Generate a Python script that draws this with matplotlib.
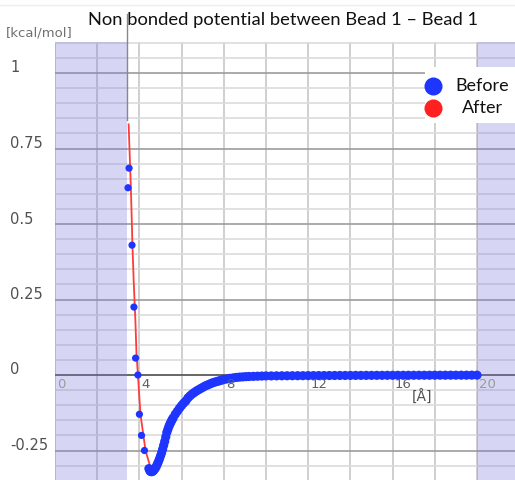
import matplotlib
matplotlib.use('Agg')
import matplotlib.pyplot as plt
from matplotlib.lines import Line2D
from matplotlib.patches import Rectangle
import matplotlib.transforms as mtransforms

# ---------------- data ----------------
title = "Non bonded potential between Bead 1 \u2013 Bead 1"
y_unit = "[kcal/mol]"
x_unit = "[\u00c5]"
series_names = ["Before", "After"]

x_ticks = [0, 4, 8, 12, 16, 20]
x_tick_labels = ["0", "4", "8", "12", "16", "20"]
y_ticks = [1, 0.75, 0.5, 0.25, 0, -0.25]
y_tick_labels = ["1", "0.75", "0.5", "0.25", "0", "-0.25"]

x_before = [3.46, 3.51, 3.65, 3.74, 3.82, 3.93, 4.00, 4.10, 4.24, 4.45,
            4.50, 4.55, 4.60, 4.65, 4.70, 4.75, 4.80, 4.85, 4.90, 4.95,
            5.00, 5.05, 5.10, 5.15, 5.20, 5.25, 5.30, 5.35, 5.40, 5.45,
            5.50, 5.55, 5.60, 5.70, 5.80, 5.90, 6.00, 6.10, 6.20, 6.30,
            6.40, 6.50, 6.60, 6.70, 6.80, 6.90, 7.00, 7.10, 7.20, 7.30,
            7.40, 7.50, 7.60, 7.70, 7.80, 7.90, 8.00, 8.15, 8.30, 8.45,
            8.60, 8.75, 8.90, 9.05, 9.20, 9.40, 9.60, 9.80, 10.00,
            10.25, 10.50, 10.75, 11.00, 11.25, 11.50, 11.75, 12.00, 12.25, 12.50,
            12.75, 13.00, 13.25, 13.50, 13.75, 14.00, 14.25, 14.50, 14.75, 15.00,
            15.25, 15.50, 15.75, 16.00, 16.25, 16.50, 16.75, 17.00, 17.25, 17.50,
            17.75, 18.00, 18.25, 18.50, 18.75, 19.00, 19.25, 19.50, 19.75, 20.00]
y_before = [0.62, 0.685, 0.43, 0.225, 0.056, 0.0, -0.13, -0.20, -0.25, -0.31,
            -0.318, -0.32, -0.32, -0.318, -0.314, -0.309, -0.303, -0.295, -0.287, -0.278,
            -0.268, -0.258, -0.246, -0.233, -0.22, -0.205, -0.19, -0.18, -0.17, -0.162,
            -0.155, -0.148, -0.142, -0.13, -0.12, -0.11, -0.101, -0.093, -0.086, -0.076,
            -0.069, -0.063, -0.058, -0.053, -0.049, -0.045, -0.041, -0.037, -0.034, -0.031,
            -0.028, -0.025, -0.023, -0.021, -0.019, -0.017, -0.015, -0.013, -0.011, -0.0095,
            -0.008, -0.007, -0.0062, -0.0055, -0.005, -0.0045, -0.004, -0.0035, -0.003,
            -0.003, -0.0028, -0.0026, -0.0025, -0.0024, -0.0023, -0.0022, -0.002, -0.002, -0.0019,
            -0.0018, -0.0017, -0.0016, -0.0015, -0.0015, -0.0014, -0.0013, -0.0013, -0.0012, -0.0012,
            -0.0011, -0.0011, -0.001, -0.001, -0.001, -0.0009, -0.0009, -0.0009, -0.0008, -0.0008,
            -0.0008, -0.0007, -0.0007, -0.0007, -0.0006, -0.0006, -0.0006, -0.0006, -0.0005, -0.0005]

x_after = [3.49, 3.60, 3.67, 3.73, 3.81, 3.86, 3.93, 4.05, 4.29, 4.52,
           4.80, 5.20, 5.60, 6.00, 7.00, 8.00, 10.00, 14.00, 20.00]
y_after = [0.83, 0.61, 0.43, 0.31, 0.18, 0.073, 0.0, -0.13, -0.25, -0.305,
           -0.303, -0.22, -0.142, -0.098, -0.039, -0.015, -0.003, -0.001, 0.0]

shade_left = (0, 3.42)
shade_right = (20, 22)

# ---------------- figure ----------------
W, H = 515, 480
fig = plt.figure(figsize=(W / 100, H / 100), dpi=100)
ax = fig.add_axes([55 / W, 0, 460 / W, 438 / H])
ax.set_xlim(0, 460 / 21.1)
ax.set_ylim(-105 / 302, 333 / 302)
for s in ax.spines.values():
    s.set_visible(False)
ax.set_xticks([])
ax.set_yticks([])

# grid
for xv in range(0, 22, 2):
    ax.axvline(xv, color='#cfcfcf', lw=1.4, zorder=1)
for k in range(-6, 23):
    yv = k * 0.05
    if k == 0:
        continue
    col = '#9c9c9c' if k % 5 == 0 else '#dcdcdc'
    ax.axhline(yv, color=col, lw=1.2, zorder=1)
ax.axhline(0, color='#5a5a5a', lw=1.3, zorder=1.5)

shade_col = (120 / 255, 120 / 255, 220 / 255)
ax.axvspan(*shade_left, color=shade_col, alpha=0.3, lw=0, zorder=2)
ax.axvspan(*shade_right, color=shade_col, alpha=0.3, lw=0, zorder=2)

# data
ax.plot(x_after, y_after, color='#ff3b3b', lw=1.3, zorder=3)
sizes = [5.2 ** 2 if i < 9 else 6.6 ** 2 for i in range(len(x_before))]
ax.scatter(x_before, y_before, s=sizes, color='#1d35ff', linewidths=0,
           zorder=4)

# y tick labels
trans = mtransforms.blended_transform_factory(fig.transFigure, ax.transData)
trans = mtransforms.offset_copy(trans, fig=fig, y=5, units='dots')
for yv, lab in zip(y_ticks, y_tick_labels):
    ax.text(10 / W, yv, lab, transform=trans, ha='left', va='center',
            fontsize=10.5, color='#505050')

# x tick labels
trans2 = mtransforms.offset_copy(ax.transData, fig=fig, x=2, y=-3, units='dots')
for xv, lab in zip(x_ticks, x_tick_labels):
    col = '#9a9a9a' if xv in (0, 20) else '#606060'
    ax.text(xv, 0, lab, transform=trans2, ha='left', va='top',
            fontsize=9.5, color=col, zorder=5)

fig.text(422 / W, 1 - 397 / H, x_unit, ha='center', va='center',
         fontsize=10, color='#505050')
fig.text(6 / W, 1 - 33 / H, y_unit, ha='left', va='center',
         fontsize=9.5, color='#707070')

# title
fig.text(88 / W, 1 - 20 / H, title, ha='left', va='center',
         fontsize=13.2, family='Lato', color='#111111')

# artifact lines
fig.add_artist(Line2D([0, 1], [1 - 5 / H, 1 - 5 / H], color='#eeeeee',
                      lw=1, transform=fig.transFigure))
fig.add_artist(Line2D([127 / W, 127 / W], [1 - 14 / H, 1 - 120 / H],
                      color='#888888', lw=1, transform=fig.transFigure, zorder=5))

# legend
fig.add_artist(Rectangle((425 / W, 1 - 123 / H), 90 / W, 56 / H,
                         transform=fig.transFigure, facecolor='white',
                         edgecolor='none', zorder=6))
colors = ['#1d35ff', '#ff2020']
ys = [86, 108]
for name, c, yy in zip(series_names, colors, ys):
    fig.add_artist(Line2D([433 / W], [1 - yy / H], marker='o', ms=13,
                          color=c, mew=0, linestyle='none',
                          transform=fig.transFigure, zorder=7))
    fig.text(482 / W, 1 - yy / H, name, ha='center', va='center',
             fontsize=13, family='Lato', color='#111111', zorder=8)

fig.savefig('out.png', dpi=100)
